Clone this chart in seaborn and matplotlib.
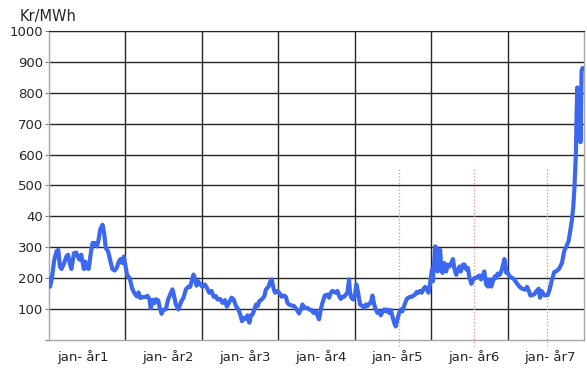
import pandas as pd
import matplotlib.pyplot as plt
import seaborn as sns

sns.set_style("white")
plt.rcParams['font.family'] = ['DejaVu Sans']

# week number (0 = start of year 1) and price in Kr/MWh
weeks = [0, 0.7, 1.8, 3.6, 5.1, 6.3, 7.4, 8.5, 10.3, 11.8, 12.9, 14.1, 15.2, 17, 18.5, 19.6,
         20.8, 21.9, 23, 23.7, 24.6, 25.9, 27, 28.6, 29.7, 31.3, 32.6, 33.7, 34.8, 36.4, 37.5,
         38.6, 40.2, 41.5, 43.1, 44.6, 46, 47.5, 48.7, 49.8, 50.9, 52, 53.1, 54.9, 56.5, 58,
         59.8, 60.9, 62.1, 63.8, 65.4, 67, 68.3, 69.2, 70.5, 71.7, 72.8, 74.3, 75.4, 76.6, 77.7,
         79.5, 81, 82.9, 84, 85.1, 86.3, 87.9, 89.2, 90.1, 91.5, 93.1, 94.7, 96, 97, 98.3, 99.2,
         100.4, 101.5, 102.9, 104.5, 106, 107.4, 109, 110.6, 112, 113.5, 114.7, 116.5, 118.1,
         119.7, 121, 122.6, 124.2, 125.6, 127.2, 128.8, 130.1, 131.3, 132.9, 134, 135.1, 136.3,
         137.4, 138.5, 139.7, 140.8, 142, 143.1, 144.7, 146.5, 147.6, 149.2, 150.6, 151.5,
         152.9, 153.8, 155.1, 156.7, 158.3, 159.7,
         161.1, 162.2, 163.3, 164.9, 166.7, 168.5, 170.1, 171.3, 172.4, 174, 175.8, 176.9,
         178.5, 179.9, 181.5, 182.6, 183.7, 184.9, 186, 187.6, 189.4, 190.5, 191.7, 192.8,
         193.9, 195.1, 196.2, 197.4, 198.5, 199.6, 200.7, 201.9, 203, 204.1, 204.8, 205.7,
         206.9, 208, 209.1, 210.3, 211.6, 213.2, 214.3, 215.5, 216.6, 217.8, 218.9, 220, 221.2,
         222.3, 223.4, 224.6, 225.7, 226.8, 228, 229.1, 230.2, 231.4, 232.5, 233.6, 234.8,
         235.9, 237, 238.2, 239.3, 240.4, 241.6,
         242.3, 243.4, 244.5, 245.7, 246.8, 248, 249.1, 250.2, 251.4, 252.5, 253.6, 254.8,
         255.9, 257, 258.2, 259.3, 260.5, 261.1, 262, 262.7, 263.4, 263.9, 264.5, 265.2, 266.1,
         266.8, 267.7, 268.9, 270.2, 271.1, 272.5, 273.6, 274.8, 275.7, 277, 278.2, 279.3,
         280.2, 281.6, 282.7, 283.9, 285, 286.1, 287.3, 288.4, 289.5, 290.7, 291.8, 293, 293.9,
         295, 296.1, 297.5, 298.6, 299.8, 300.9, 302, 303.2, 304.3, 305.2, 306.6, 307.7, 308.9,
         309.8, 310.5, 311.1, 312, 313.4, 315, 316.6, 318, 319.5, 321.1, 322.5, 324.1, 325.2,
         326.4, 327.5,
         328.3, 330.1, 331.7, 333.1, 334, 335.1, 336.9, 339.2, 340.3, 342.2, 343.7, 345.3,
         347.1, 349, 350.5, 352.1, 353.5, 354.6, 355.8, 356.7, 357.4, 358, 358.5, 358.9, 359.4,
         360.1, 360.6, 361.2, 361.6, 362.3, 363]
price = [200, 173, 195, 260, 287, 292, 238, 230, 249, 270, 276, 249, 230, 281, 283, 270,
         260, 276, 249, 230, 254, 233, 230, 287, 314, 314, 303, 324, 357, 373, 346,
         298, 287, 260, 230, 225, 233, 254, 262, 249, 270, 240, 211, 200, 168, 152,
         141, 154, 136, 139, 139, 143, 132, 103, 130, 119, 132, 128, 103, 85, 98,
         99, 131, 153, 164, 142, 115, 99, 115, 126, 137, 164, 172, 172, 190, 212, 201,
         176, 190, 180, 172, 180, 169, 153, 159, 140, 142, 131, 133, 120,
         129, 108, 123, 137, 131, 110, 99, 83, 61, 72, 69, 80, 56,
         80, 83, 99, 115, 110, 126, 131, 142, 164, 172, 190, 196,
         164, 153, 159, 153, 140, 144,
         140, 120, 115, 112, 110, 99, 86, 99, 115, 104, 104, 99,
         97, 88, 93, 80, 67, 99, 120, 144, 147, 137, 153, 159,
         156, 153, 159, 142, 133, 140, 140, 147, 153, 196, 153, 137,
         131, 142, 180, 153, 115, 110, 104, 115, 110, 118, 120, 144, 115,
         99, 88, 93, 80, 91, 99, 93, 99, 88, 97, 77, 56,
         44, 67, 88, 99, 93, 110,
         120, 133, 137, 140, 140, 144, 147, 156, 153, 159, 153, 166,
         172, 164, 153, 185, 228, 190, 249, 303, 249, 298, 222, 260, 292,
         233, 217, 249, 222, 244, 238, 249, 262, 233, 211, 228, 238,
         222, 244, 244, 228, 233, 201, 182, 193, 201, 201, 206, 209, 196,
         206, 222, 179, 173, 196, 173, 190, 206, 201, 215, 211, 222, 244,
         262, 244, 217, 219, 206, 201, 196, 185, 176, 168, 165, 163, 172,
         159, 144,
         145, 148, 159, 166, 137, 159, 145, 145, 159, 196, 220, 223,
         231, 250, 288, 304, 321, 353, 391, 434, 488, 553, 617, 725, 817,
         700, 650, 800, 640, 870, 880]

n_years = 7
label_weeks = [23, 81, 133, 185, 237, 289, 341]
labels = ["jan- år1", "jan- år2", "jan- år3", "jan- år4", "jan- år5", "jan- år6", "jan- år7"]
y_ticks = [0, 100, 200, 300, 400, 500, 600, 700, 800, 900, 1000]
y_labels = ["", "100", "200", "300", "40", "500", "600", "700", "800", "900", "1000"]
marker_weeks = [238, 289, 339]

df = pd.DataFrame({"week": weeks, "price": price})

fig, ax = plt.subplots(figsize=(5.87, 3.77), dpi=100)
fig.subplots_adjust(left=0.0835, right=0.995, bottom=0.098, top=0.918)

# dark grid: horizontal every 100, vertical at each year boundary
for v in y_ticks[1:]:
    ax.axhline(v, color='#262626', lw=1, zorder=1)
for k in range(1, n_years):
    ax.axvline(52 * k, color='#262626', lw=1, zorder=1)

ax.vlines(marker_weeks, -20, 555, colors='#f08888', linestyles=':', lw=0.9,
          zorder=2, clip_on=False)

sns.lineplot(data=df, x='week', y='price', color='#3b68ee', lw=3,
             estimator=None, ax=ax, zorder=3)

ax.set_xlim(0, 52 * n_years)
ax.set_ylim(0, 1000)
ax.set_yticks(y_ticks)
ax.set_yticklabels(y_labels)
ax.set_xticks(label_weeks)
ax.set_xticklabels(labels)
ax.tick_params(axis='y', length=3, pad=1.5, color='#808080', labelsize=9.5, left=True)
ax.tick_params(axis='x', length=0, pad=7, labelsize=9.5)
ax.set_xlabel('')
ax.set_ylabel('')

for s in ['left', 'bottom', 'right']:
    ax.spines[s].set_color('#a6a6a6')
    ax.spines[s].set_linewidth(1)
ax.spines['top'].set_color('#262626')

fig.text(20 / 587, 1 - 16 / 377, "Kr/MWh", fontsize=10.5, va='center', ha='left')

plt.savefig("out.png", dpi=100)
